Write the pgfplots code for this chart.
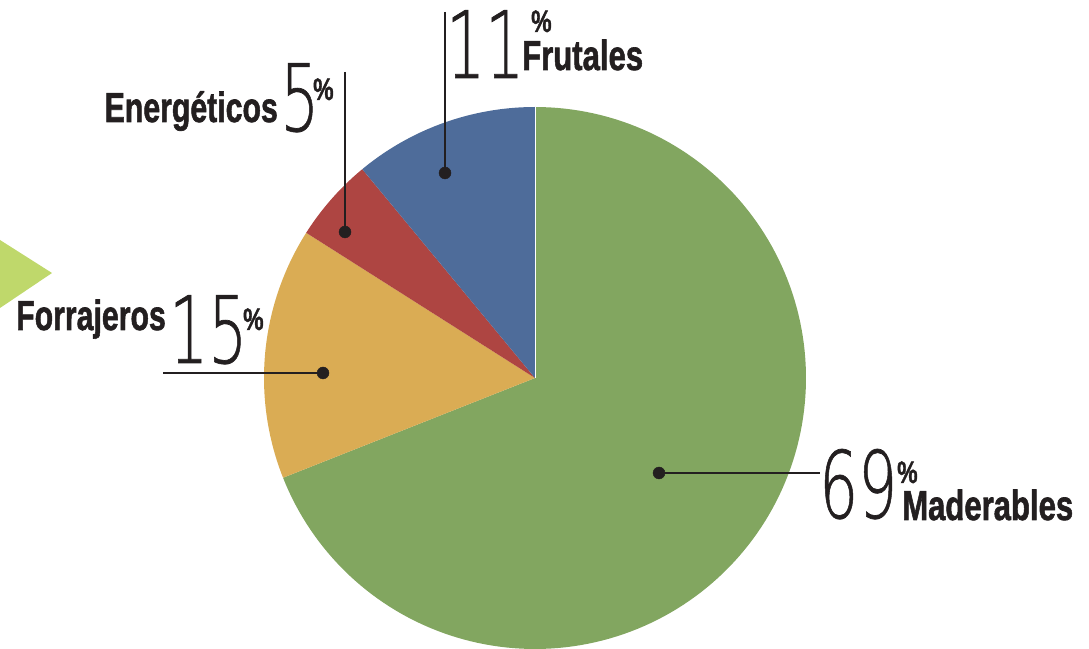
\documentclass[border=0pt]{standalone}
\usepackage{graphicx}
\usepackage{pgfplots}
\pgfplotsset{compat=1.18}
\usepackage{fontspec}
\setmainfont{Liberation Sans}
\newfontfamily\labfont{Liberation Sans}[BoldFeatures={FakeBold=1.6}]
\newfontfamily\thinfont{DejaVu Sans ExtraLight}[FakeBold=0.8]
\definecolor{cMad}{RGB}{130,166,96}
\definecolor{cFor}{RGB}{218,172,84}
\definecolor{cEne}{RGB}{174,69,66}
\definecolor{cFru}{RGB}{78,108,154}
\definecolor{cTri}{RGB}{191,216,107}
\definecolor{textc}{RGB}{35,31,32}
\newcommand\lab[2][0.74]{{\labfont\fontsize{42bp}{42bp}\selectfont\bfseries\scalebox{#1}[1]{#2}}}
\newcommand\pct{{\labfont\fontsize{31bp}{31bp}\selectfont\bfseries\scalebox{0.74}[1]{\%}}}
\newcommand\num[1]{{\thinfont\fontsize{93bp}{93bp}\selectfont\scalebox{0.66}[1]{#1}}}
% data (percent)
\def\vMad{69}\def\vFor{15}\def\vEne{5}\def\vFru{11}
\pgfmathsetmacro\aA{90}
\pgfmathsetmacro\aB{\aA-3.6*\vMad}
\pgfmathsetmacro\aC{\aB-3.6*\vFor}
\pgfmathsetmacro\aD{\aC-3.6*\vEne}
\pgfmathsetmacro\aE{\aD-3.6*\vFru}
\begin{document}
\begin{tikzpicture}
\begin{axis}[hide axis, scale only axis, width=1089bp, height=649bp,
  xmin=0, xmax=1089, ymin=0, ymax=649, clip=false]
\coordinate (sw) at (axis cs:0,0);
\coordinate (ne) at (axis cs:1089,649);
% decorative triangle
\addplot[fill=cTri, draw=none] coordinates {(0,409) (52,376) (0,341)} -- cycle;
% pie slices
\addplot[fill=cMad, draw=none, domain=\aB:\aA, samples=160, variable=\t]
  ({535+271*cos(t)},{271+271*sin(t)}) -- (axis cs:535,271) -- cycle;
\addplot[fill=cFor, draw=none, domain=\aC:\aB, samples=60, variable=\t]
  ({535+271*cos(t)},{271+271*sin(t)}) -- (axis cs:535,271) -- cycle;
\addplot[fill=cEne, draw=none, domain=\aD:\aC, samples=30, variable=\t]
  ({535+271*cos(t)},{271+271*sin(t)}) -- (axis cs:535,271) -- cycle;
\addplot[fill=cFru, draw=none, domain=\aE:\aD, samples=50, variable=\t]
  ({535+271*cos(t)},{271+271*sin(t)}) -- (axis cs:535,271) -- cycle;
\addplot[white, line width=0.6bp] coordinates {(535,271) (535,542)};
% leader lines
\addplot[textc, line width=2.8bp] coordinates {(445,637) (445,476)};
\addplot[textc, line width=2.8bp] coordinates {(345,577) (345,417)};
\addplot[textc, line width=2.8bp] coordinates {(163,276) (323,276)};
\addplot[textc, line width=2.8bp] coordinates {(659,176) (820,176)};
\addplot[only marks, mark=*, mark size=6bp, textc] coordinates {(445,476) (345,417) (323,276) (659,176)};
% labels
\node[anchor=base west, inner sep=0, text=textc] at (axis cs:446,571) {\num{11}};
\node[anchor=base west, inner sep=0, text=textc] at (axis cs:531,617) {\pct};
\node[anchor=base west, inner sep=0, text=textc] at (axis cs:522,579) {\lab{Frutales}};
\node[anchor=base east, inner sep=0, text=textc] at (axis cs:278,527) {\lab[0.72]{Energéticos}};
\node[anchor=base west, inner sep=0, text=textc] at (axis cs:280,518) {\num{5}};
\node[anchor=base west, inner sep=0, text=textc] at (axis cs:313,549) {\pct};
\node[anchor=base east, inner sep=0, text=textc] at (axis cs:166,319) {\lab[0.72]{Forrajeros}};
\node[anchor=base west, inner sep=0, text=textc] at (axis cs:169,286) {\num{15}};
\node[anchor=base west, inner sep=0, text=textc] at (axis cs:243,319) {\pct};
\node[anchor=base west, inner sep=0, text=textc] at (axis cs:819,131) {\num{69}};
\node[anchor=base west, inner sep=0, text=textc] at (axis cs:897,166) {\pct};
\node[anchor=base west, inner sep=0, text=textc] at (axis cs:902,129) {\lab{Maderables}};
\end{axis}
\pgfresetboundingbox
\path (sw) rectangle (ne);
\end{tikzpicture}
\end{document}
